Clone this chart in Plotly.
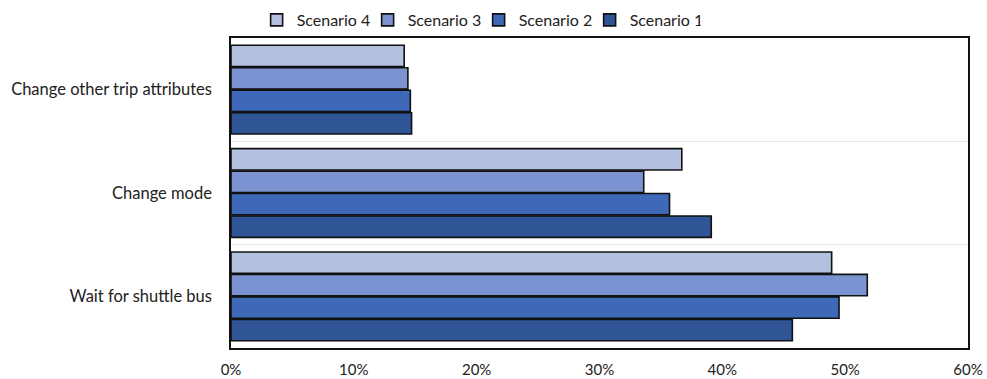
import plotly.graph_objects as go

# Response categories, bottom to top on the axis
categories = ["Wait for shuttle bus", "Change mode", "Change other trip attributes"]

# Share of respondents per scenario (fraction), same order as categories
scenario_1 = [0.457, 0.391, 0.147]
scenario_2 = [0.495, 0.357, 0.146]
scenario_3 = [0.518, 0.336, 0.144]
scenario_4 = [0.489, 0.367, 0.141]

series_names = ["Scenario 1", "Scenario 2", "Scenario 3", "Scenario 4"]
series_values = [scenario_1, scenario_2, scenario_3, scenario_4]
series_colors = ["#2f5597", "#3d69b8", "#7b93d0", "#b4c0e0"]

tick_values = [0, 0.1, 0.2, 0.3, 0.4, 0.5, 0.6]
tick_labels = ["0%", "10%", "20%", "30%", "40%", "50%", "60%"]

font_family = "Lato, 'Open Sans', sans-serif"

fig = go.Figure()
for name, vals, color in zip(series_names, series_values, series_colors):
    fig.add_trace(go.Bar(
        name=name,
        y=categories,
        x=vals,
        orientation="h",
        marker=dict(color=color, line=dict(color="#111111", width=1.6)),
    ))

fig.update_layout(
    width=987,
    height=379,
    margin=dict(l=231, r=19, t=38, b=31, autoexpand=False),
    barmode="group",
    bargap=0.13,
    bargroupgap=0.05,
    plot_bgcolor="white",
    paper_bgcolor="white",
    font=dict(family=font_family, size=16, color="#222222"),
    legend=dict(
        orientation="h",
        traceorder="reversed",
        x=0.336,
        xanchor="center",
        y=1.058,
        yanchor="middle",
        bgcolor="rgba(0,0,0,0)",
        font=dict(size=16, color="#222222"),
        itemwidth=30,
        entrywidth=66,
        entrywidthmode="pixels",
        tracegroupgap=0,
    ),
    showlegend=True,
)

fig.update_xaxes(
    range=[0, 0.6],
    tickvals=tick_values,
    ticktext=tick_labels,
    showgrid=False,
    zeroline=False,
    showline=True,
    linecolor="#111111",
    linewidth=1.5,
    mirror=True,
    ticks="",
    ticklabelstandoff=7,
    automargin=False,
    tickfont=dict(size=15, color="#222222"),
)

fig.update_yaxes(
    categoryorder="array",
    categoryarray=categories,
    tickson="boundaries",
    showgrid=True,
    gridcolor="#e6e6e6",
    gridwidth=1,
    showline=True,
    linecolor="#111111",
    linewidth=1.5,
    mirror=True,
    ticks="",
    ticklabelstandoff=14,
    automargin=False,
    tickfont=dict(size=16.5, color="#222222"),
)

fig.write_html("out.html")
